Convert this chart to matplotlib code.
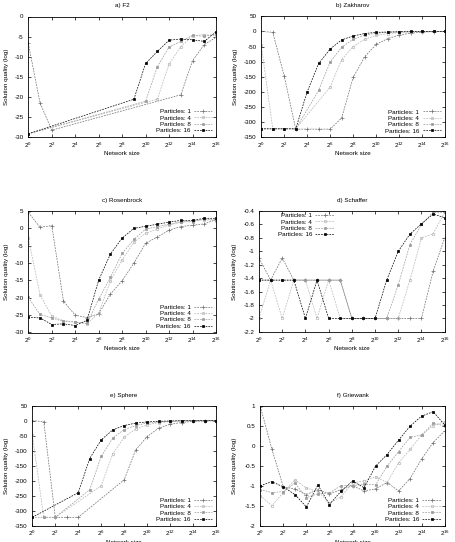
import matplotlib
matplotlib.use('Agg')
import matplotlib.pyplot as plt
from matplotlib.ticker import FuncFormatter, NullLocator

plt.rcParams['font.family'] = ['Liberation Sans', 'DejaVu Sans']
plt.rcParams['mathtext.fontset'] = 'custom'
plt.rcParams['mathtext.rm'] = 'Liberation Sans'
plt.rcParams['mathtext.it'] = 'Liberation Sans:italic'
plt.rcParams['mathtext.default'] = 'regular'
plt.rcParams['axes.unicode_minus'] = False

# ---------------- data ----------------
exponents = list(range(17))
network_size = [2 ** e for e in exponents]
tick_exponents = list(range(0, 17, 2))
series_labels = ['Particles: 1', 'Particles: 4', 'Particles: 8', 'Particles: 16']
N = None

# a) F2
f2_p1 = [-6.7, -21.5, -28.3, N, N, N, N, N, N, N, N, N, N, -19.5, -11.0, -7.0, -5.2]
f2_p4 = [-29.2, N, N, N, N, N, N, N, N, N, N, -20.6, -11.8, -7.5, -4.8, -4.5, -4.8]
f2_p8 = [-29.2, N, N, N, N, N, N, N, N, N, -21.1, -12.5, -7.6, -6.2, -4.7, -4.9, -4.4]
f2_p16 = [-29.2, N, N, N, N, N, N, N, N, -20.6, -11.7, -8.7, -5.9, -5.6, -5.8, -6.2, -3.8]

# b) Zakharov
zak_p1 = [0, -3, -148, -323, -323, -323, -323, -286, -152, -84, -43, -24, -12, -6, -2, -1, 0]
zak_p4 = [-46, -322, -322, -322, N, N, -184, -93, -50, -26, -13, -7, -4, -2, -1, 0, 0]
zak_p8 = [-322, -322, -322, -322, N, -195, -101, -52, -26, -12, -6, -3, -2, -1, 0, 0, 0]
zak_p16 = [-322, -322, -322, -322, -199, -106, -58, -28, -15, -7, -3, -2, -1, 0, 0, 0, 0]

# c) Rosenbrock
ros_p1 = [4.6, 0.3, 0.8, -21.0, -25.0, -25.7, -24.6, -18.9, -15.1, -10.0, -4.3, -2.5, -0.5, 0.5, 0.9, 1.3, 2.5]
ros_p4 = [-2.8, -19.1, -25.3, -26.6, -26.9, -27.5, -24.4, -15.1, -9.1, -4.0, -1.4, -0.2, 1.0, 1.7, 2.2, 2.5, 2.2]
ros_p8 = [-19.9, -24.8, -25.8, -26.8, -27.0, -27.4, -20.4, -14.1, -7.2, -3.2, -0.2, 0.5, 1.2, 1.9, 1.9, 2.7, 2.5]
ros_p16 = [-25.6, -25.8, -27.7, -27.5, -28.0, -26.5, -14.9, -7.4, -2.8, 0.0, 0.6, 1.2, 1.8, 2.3, 2.3, 2.9, 2.9]

# d) Schaffer
sch_p1 = [-1.1, -1.43, -1.1, -1.43, -1.43, -1.43, -1.43, -1.43, -2.0, -2.0, -2.0, -2.0, -2.0, -2.0, -2.0, -1.3, -0.8]
sch_p4 = [-2.0, -1.43, -2.0, -1.43, -1.43, -2.0, -1.43, -2.0, -2.0, -2.0, -2.0, -2.0, -2.0, -1.43, -0.8, -0.74, -0.42]
sch_p8 = [-1.43, -1.43, -1.43, -1.43, -1.43, -1.43, -1.43, -1.43, -2.0, -2.0, -2.0, -2.0, -1.5, -0.9, -0.6, -0.42, -0.42]
sch_p16 = [-1.43, -1.43, -1.43, -1.43, -2.0, -1.43, -2.0, -2.0, -2.0, -2.0, -2.0, -1.43, -1.0, -0.745, -0.59, -0.445, -0.5]

# e) Sphere
sph_p1 = [0, -3, -322, -322, -322, N, N, N, -197, -98, -53, -25, -12, -6, -2, -1, 0]
sph_p4 = [-47, -322, -322, N, N, N, -217, -111, -55, -28, -14, -6, -3, -1, 0, 0, 0]
sph_p8 = [-322, -322, -322, N, N, -230, -119, -58, -30, -16, -8, -4, -2, -1, 0, 0, 0]
sph_p16 = [-322, N, N, N, -240, -126, -64, -31, -16, -8, -4, -2, -1, 0, 0, 0, 0]

# f) Griewank
gri_p1 = [0.98, -0.08, -1.03, -1.08, -1.22, -1.1, -1.2, -1.1, -1.0, -1.13, -1.08, -0.92, -1.13, -0.82, -0.33, 0.08, 0.37]
gri_p4 = [-1.25, -1.5, -1.17, -0.85, -1.06, -1.14, -1.43, -1.28, -0.93, -0.88, -0.78, -0.92, -0.43, -0.09, 0.27, 0.5, 0.6]
gri_p8 = [-1.1, -1.17, -1.15, -0.93, -1.3, -1.2, -1.18, -1.0, -1.0, -0.96, -0.98, -0.51, -0.15, 0.21, 0.27, 0.56, 0.5]
gri_p16 = [-1.0, -0.9, -1.03, -1.22, -1.53, -0.98, -1.47, -1.14, -0.88, -1.05, -0.51, -0.22, 0.14, 0.49, 0.74, 0.85, 0.52]

titles = ['a) F2', 'b) Zakharov', 'c) Rosenbrock', 'd) Schaffer', 'e) Sphere', 'f) Griewank']
panel_data = [
    [f2_p1, f2_p4, f2_p8, f2_p16],
    [zak_p1, zak_p4, zak_p8, zak_p16],
    [ros_p1, ros_p4, ros_p8, ros_p16],
    [sch_p1, sch_p4, sch_p8, sch_p16],
    [sph_p1, sph_p4, sph_p8, sph_p16],
    [gri_p1, gri_p4, gri_p8, gri_p16],
]
y_ranges = [(-30, 0, 5), (-350, 50, 50), (-30, 5, 5), (-2.2, -0.4, 0.2), (-350, 50, 50), (-2, 1, 0.5)]

# ---------------- style / layout ----------------
W, H = 455, 542
rects_px = [  # left, top, right, bottom in pixels
    (28.3, 16.5, 216, 137),
    (261.3, 16.3, 445, 137.3),
    (28.3, 211, 216, 332.5),
    (259, 211, 444.7, 331.8),
    (32.3, 405.7, 216, 525.7),
    (260.3, 405.7, 444.7, 525.7),
]
ylabel_x_px = [6.7, 235.3, 6.3, 234.7, 6.7, 234.7]
legend_locs = ['lower right', 'lower right', 'lower right', 'upper right', 'lower right', 'lower right']
legend_anchor = [None, None, None, (0.41, 0.995), None, None]

colors = ['#6e6e6e', '#b4b4b4', '#9a9a9a', '#000000']
markers = ['+', 'o', 's', 's']
mfc = ['#6e6e6e', 'none', '#9a9a9a', '#000000']
msizes = [2.6, 1.8, 1.6, 1.6]
FS = 4.5

fig = plt.figure(figsize=(W / 100, H / 100), dpi=100)
fig.patch.set_facecolor('white')


def yfmt(v, pos):
    v = round(v, 6)
    if abs(v) < 1e-9:
        v = 0.0
    return '%g' % v


for i in range(6):
    l, t, r, b = rects_px[i]
    ax = fig.add_axes([l / W, 1 - b / H, (r - l) / W, (b - t) / H])
    for s in range(4):
        vals = panel_data[i][s]
        xs = [n for n, v in zip(network_size, vals) if v is not None]
        ys = [v for v in vals if v is not None]
        ax.plot(xs, ys, color=colors[s], lw=0.5, linestyle=(0, (2.5, 1.5)),
                marker=markers[s], ms=msizes[s], mew=0.5, mfc=mfc[s], mec=colors[s],
                label=series_labels[s])
    ax.set_xscale('log', base=2)
    ax.set_xlim(network_size[0], network_size[-1])
    ax.set_xticks([2 ** e for e in tick_exponents])
    ax.set_xticklabels(['$2^{%d}$' % e for e in tick_exponents])
    ax.xaxis.set_minor_locator(NullLocator())
    lo, hi, step = y_ranges[i]
    ax.set_ylim(lo, hi)
    nt = int(round((hi - lo) / step))
    ax.set_yticks([lo + k * step for k in range(nt + 1)])
    ax.yaxis.set_major_formatter(FuncFormatter(yfmt))
    ax.tick_params(direction='in', length=2.5, width=0.5, top=True, right=True,
                   labelsize=FS, pad=2.5, colors='black')
    ax.tick_params(axis='y', pad=3.5)
    for sp in ax.spines.values():
        sp.set_linewidth(0.6)
    hpx = b - t
    wpx = r - l
    ax.text(0.5, 1 + 10.5 / hpx, titles[i], transform=ax.transAxes,
            ha='center', va='center', fontsize=FS)
    ax.set_xlabel('Network size', fontsize=FS)
    ax.xaxis.set_label_coords(0.5, -16.3 / hpx)
    ax.xaxis.label.set_va('center')
    ax.set_ylabel('Solution quality (log)', fontsize=FS)
    ax.yaxis.set_label_coords((ylabel_x_px[i] - l) / wpx, 0.5)
    ax.yaxis.label.set_va('center')
    kw = dict(loc=legend_locs[i], fontsize=FS, frameon=False, markerfirst=False,
              handlelength=3.0, handletextpad=0.5, labelspacing=0.15,
              borderpad=0.2)
    if legend_anchor[i] is not None:
        kw['bbox_to_anchor'] = legend_anchor[i]
        kw['borderaxespad'] = 0.0
    else:
        kw['borderaxespad'] = 0.4
    ax.legend(**kw)

fig.savefig('out.png', dpi=100)
